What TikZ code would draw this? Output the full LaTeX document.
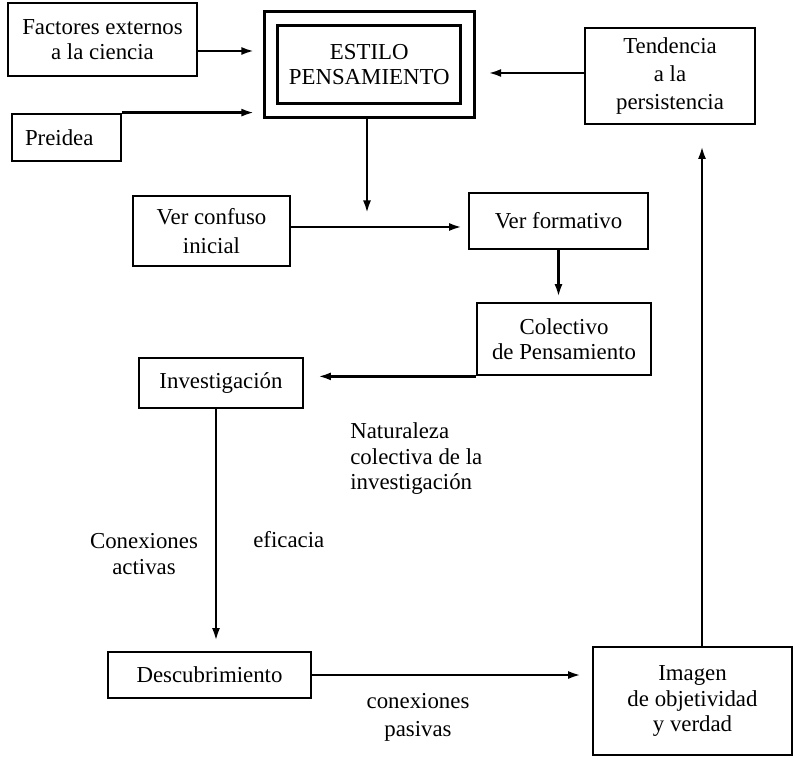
\documentclass[tikz,border=0pt]{standalone}
\usepackage{fontspec}
\setmainfont{Liberation Serif}
\usetikzlibrary{arrows.meta}
\newcommand{\letra}{\fontsize{13}{14.5}\selectfont}
\begin{document}
\begin{tikzpicture}[x=0.02cm, y=-0.02cm,
  every node/.style={font=\letra, align=center},
  caja/.style={draw, line width=1.6pt, inner sep=1pt},
  flecha/.style={line width=1.3pt, -{Latex[length=2.5mm,width=1.6mm]}}]
  \path[use as bounding box, fill=white] (0,0) rectangle (794,759);
  \node[caja, minimum width=3.78cm, minimum height=1.46cm] (factores) at (102.5,39.5) {Factores externos\\a la ciencia};
  \node[caja, double, double distance=2.1mm, outer sep=4.6pt, minimum width=3.93cm, minimum height=1.84cm] (estilo) at (369.25,64.5) {ESTILO\\PENSAMIENTO};
  \node[caja, minimum width=3.4cm, minimum height=1.92cm] (tendencia) at (670,76) {Tendencia\\[1.5pt]a la\\[1.5pt]persistencia};
  \node[caja, minimum height=0.94cm, text width=1.66cm, inner xsep=0.26cm, align=left] (preidea) at (66.5,137.5) {Preidea};
  \node[caja, minimum width=3.14cm, minimum height=1.4cm] (verconfuso) at (211.5,231) {Ver confuso\\[2pt]inicial};
  \node[caja, minimum width=3.58cm, minimum height=1.12cm] (verformativo) at (558.5,221) {Ver formativo};
  \node[caja, minimum width=3.48cm, minimum height=1.44cm] (colectivo) at (564,339) {Colectivo\\de Pensamiento};
  \node[caja, minimum width=3.28cm, minimum height=1cm] (investigacion) at (221,383) {Investigación};
  \node[caja, minimum width=4.06cm, minimum height=0.92cm] (descubrimiento) at (209.5,675) {Descubrimiento};
  \node[caja, minimum width=3.98cm, minimum height=2.16cm] (imagen) at (692.5,701) {Imagen\\de objetividad\\y verdad};

  \node[anchor=west, align=left, inner sep=0pt] (naturaleza) at (350,459) {Naturaleza\\colectiva de la\\investigación};
  \node (conexact) at (144,554) {Conexiones\\activas};
  \node[anchor=west, inner sep=0pt] (eficacia) at (253,540) {eficacia};
  \node (conexpas) at (418,717) {conexiones\\[1.5pt]pasivas};

  \coordinate (bajada) at (367,213);
  \draw[flecha, shorten >=0.18cm] (factores.east) ++(0,11.5) coordinate (fa) -- (fa -| estilo.west);
  \draw[flecha, shorten >=0.18cm] (preidea.north east) -- (preidea.north east -| estilo.west);
  \draw[flecha, shorten >=0.26cm] (tendencia.west) ++(0,-3) coordinate (te) -- (te -| estilo.east);
  \draw[flecha] (estilo.south -| bajada) -- (bajada);
  \draw[flecha, shorten >=0.12cm] (verconfuso.east) ++(0,-4) coordinate (vc) -- (vc -| verformativo.west);
  \draw[flecha, shorten >=0.1cm] (verformativo.south) -- (verformativo.south |- colectivo.north);
  \draw[flecha, shorten >=0.28cm] (colectivo.south west) -- (colectivo.south west -| investigacion.east);
  \draw[flecha, shorten >=0.2cm] (investigacion.south) ++(-5,0) coordinate (iv) -- (iv |- descubrimiento.north);
  \draw[flecha, shorten >=0.22cm] (descubrimiento.east) -- (descubrimiento.east -| imagen.west);
  \draw[flecha, shorten >=0.42cm] (imagen.north) ++(9.5,0) coordinate (im) -- (im |- tendencia.south);
\end{tikzpicture}
\end{document}
